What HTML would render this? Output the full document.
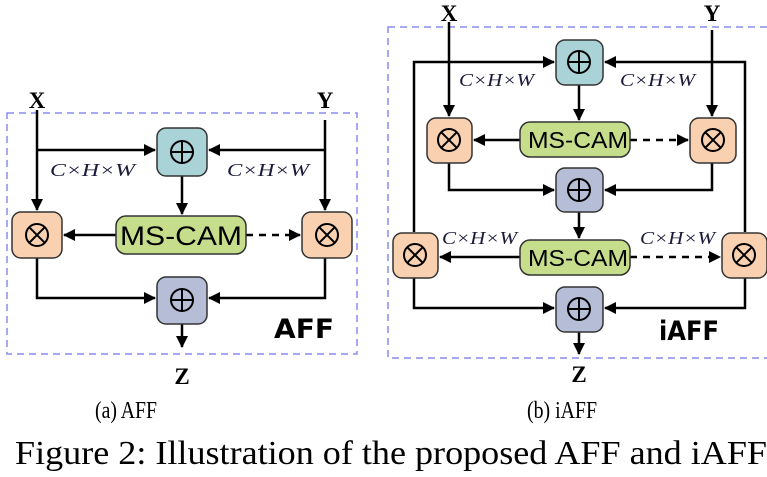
<!DOCTYPE html>
<html><head><meta charset="utf-8"><style>
html,body{margin:0;padding:0;background:#fff}
svg{display:block}
.s{font-family:"Liberation Serif",serif}
.sb{font-family:"Liberation Serif",serif;font-weight:bold;font-size:23px}
.c{font-family:"Liberation Serif",serif;font-style:italic;font-size:18px;fill:#1a1a3a}
.ms{font-family:"Liberation Sans","DejaVu Sans",sans-serif}
.lb{font-family:"DejaVu Sans","Liberation Sans",sans-serif;font-weight:bold;font-size:27px}
</style></head><body>
<svg width="767" height="477" viewBox="0 0 767 477" xmlns="http://www.w3.org/2000/svg">
<defs>
<marker id="a2" markerWidth="12" markerHeight="12" refX="11" refY="6" orient="auto" markerUnits="userSpaceOnUse" viewBox="0 0 12 12"><path d="M0,0 L12,6 L0,12 z" fill="#000"/></marker>
<g id="plus"><circle cx="0" cy="0" r="11" fill="none" stroke="#000" stroke-width="2"/><path d="M-11,0H11M0,-11V11" stroke="#000" stroke-width="2"/></g>
<g id="tim"><circle cx="0" cy="0" r="11" fill="none" stroke="#000" stroke-width="2"/><path d="M-7.8,-7.8L7.8,7.8M7.8,-7.8L-7.8,7.8" stroke="#000" stroke-width="2"/></g>
</defs>
<g stroke="#000" stroke-width="2.5" fill="none">
<rect x="7" y="113" width="350" height="241" stroke="#8a8cf0" stroke-width="1.5" stroke-dasharray="7,5"/>
<path d="M37,110V210" marker-end="url(#a2)"/>
<path d="M37,150H155" marker-end="url(#a2)"/>
<path d="M325,120V210" marker-end="url(#a2)"/>
<path d="M325,150H209" marker-end="url(#a2)"/>
<path d="M182,176V214" marker-end="url(#a2)"/>
<path d="M116,235H64" marker-end="url(#a2)"/>
<path d="M246,235H300" stroke-dasharray="7,6" marker-end="url(#a2)"/>
<path d="M37,258V298H155" marker-end="url(#a2)"/>
<path d="M325,258V298H209" marker-end="url(#a2)"/>
<path d="M182,324V347" marker-end="url(#a2)"/>
<rect x="388" y="27" width="392" height="331" stroke="#8a8cf0" stroke-width="1.5" stroke-dasharray="7,5"/>
<path d="M449,22V116" marker-end="url(#a2)"/>
<path d="M712,30V116" marker-end="url(#a2)"/>
<path d="M414,232V62H554" marker-end="url(#a2)"/>
<path d="M745,232V62H605" marker-end="url(#a2)"/>
<path d="M579,85V120" marker-end="url(#a2)"/>
<path d="M520,140H474" marker-end="url(#a2)"/>
<path d="M630,140H688" stroke-dasharray="7,6" marker-end="url(#a2)"/>
<path d="M449,163V190H554" marker-end="url(#a2)"/>
<path d="M712,163V190H605" marker-end="url(#a2)"/>
<path d="M579,212V238" marker-end="url(#a2)"/>
<path d="M520,257H440" marker-end="url(#a2)"/>
<path d="M630,257H720" stroke-dasharray="7,6" marker-end="url(#a2)"/>
<path d="M414,278V308H554" marker-end="url(#a2)"/>
<path d="M745,278V308H605" marker-end="url(#a2)"/>
<path d="M579,332V354" marker-end="url(#a2)"/>
</g>
<g stroke="#333" stroke-width="1.5">
<rect x="157" y="128" width="50" height="48" rx="9" fill="#a9d3d7"/>
<rect x="12" y="212" width="50" height="46" rx="9" fill="#f9d0b0"/>
<rect x="302" y="212" width="50" height="46" rx="9" fill="#f9d0b0"/>
<rect x="116" y="216" width="130" height="38" rx="10" fill="#c6de8c"/>
<rect x="157" y="277" width="50" height="47" rx="9" fill="#b6bdd7"/>
<rect x="556" y="40" width="47" height="45" rx="9" fill="#a9d3d7"/>
<rect x="427" y="118" width="45" height="45" rx="9" fill="#f9d0b0"/>
<rect x="690" y="118" width="46" height="45" rx="9" fill="#f9d0b0"/>
<rect x="520" y="122" width="110" height="35" rx="10" fill="#c6de8c"/>
<rect x="556" y="168" width="47" height="44" rx="9" fill="#b6bdd7"/>
<rect x="393" y="233" width="45" height="45" rx="9" fill="#f9d0b0"/>
<rect x="722" y="233" width="45" height="45" rx="9" fill="#f9d0b0"/>
<rect x="520" y="240" width="110" height="35" rx="10" fill="#c6de8c"/>
<rect x="556" y="287" width="47" height="45" rx="9" fill="#b6bdd7"/>
</g>
<use href="#plus" x="182" y="152"/>
<use href="#tim" x="37" y="235"/>
<use href="#tim" x="327" y="235"/>
<use href="#plus" x="182" y="300"/>
<use href="#plus" x="579" y="62"/>
<use href="#tim" x="449" y="140"/>
<use href="#tim" x="713" y="140"/>
<use href="#plus" x="579" y="190"/>
<use href="#tim" x="415" y="255"/>
<use href="#tim" x="744" y="255"/>
<use href="#plus" x="579" y="309"/>
<text class="ms" x="120" y="245" font-size="27" textLength="122" lengthAdjust="spacingAndGlyphs">MS-CAM</text>
<text class="ms" x="528" y="148" font-size="23" textLength="100" lengthAdjust="spacingAndGlyphs">MS-CAM</text>
<text class="ms" x="528" y="266" font-size="23" textLength="100" lengthAdjust="spacingAndGlyphs">MS-CAM</text>
<text class="sb" x="37" y="108" text-anchor="middle">X</text>
<text class="sb" x="325" y="108" text-anchor="middle">Y</text>
<text class="sb" x="182" y="384" text-anchor="middle">Z</text>
<text class="sb" x="449" y="21" text-anchor="middle">X</text>
<text class="sb" x="712" y="21" text-anchor="middle">Y</text>
<text class="sb" x="579" y="382" text-anchor="middle">Z</text>
<text class="lb" x="274" y="338" textLength="60" lengthAdjust="spacingAndGlyphs">AFF</text>
<text class="lb" x="659" y="340" textLength="60" lengthAdjust="spacingAndGlyphs">iAFF</text>
<text class="c" x="50" y="176" textLength="85" lengthAdjust="spacingAndGlyphs">C×H×W</text>
<text class="c" x="227" y="176" textLength="82" lengthAdjust="spacingAndGlyphs">C×H×W</text>
<text class="c" x="459" y="86" textLength="75" lengthAdjust="spacingAndGlyphs">C×H×W</text>
<text class="c" x="620" y="86" textLength="75" lengthAdjust="spacingAndGlyphs">C×H×W</text>
<text class="c" x="442" y="244" textLength="75" lengthAdjust="spacingAndGlyphs">C×H×W</text>
<text class="c" x="640" y="244" textLength="75" lengthAdjust="spacingAndGlyphs">C×H×W</text>
<text class="s" x="95" y="418" font-size="24" textLength="62" lengthAdjust="spacingAndGlyphs">(a) AFF</text>
<text class="s" x="527" y="418" font-size="24" textLength="70" lengthAdjust="spacingAndGlyphs">(b) iAFF</text>
<text class="s" x="15" y="464" font-size="34" textLength="752" lengthAdjust="spacingAndGlyphs">Figure 2: Illustration of the proposed AFF and iAFF</text>
</svg>
</body></html>
